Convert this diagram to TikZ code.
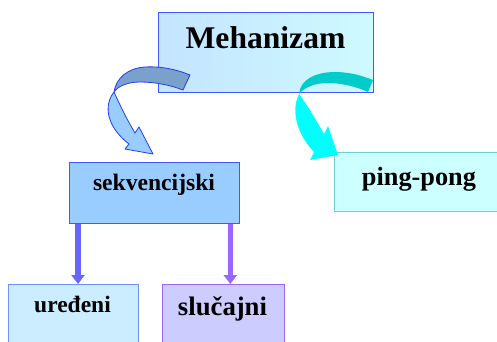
\documentclass[tikz,border=0pt]{standalone}
\usepackage{fontspec}
\setmainfont{Liberation Serif}
\usetikzlibrary{arrows.meta,positioning}

\definecolor{mehL}{RGB}{196,228,255}
\definecolor{mehR}{RGB}{206,250,255}
\definecolor{rubPlavi}{RGB}{60,90,255}
\definecolor{sekvB}{RGB}{153,204,255}
\definecolor{uredB}{RGB}{204,236,255}
\definecolor{uredR}{RGB}{110,145,255}
\definecolor{slucB}{RGB}{204,204,255}
\definecolor{slucR}{RGB}{153,102,255}
\definecolor{pingB}{RGB}{204,255,255}
\definecolor{pingR}{RGB}{110,210,210}
\definecolor{strL}{RGB}{102,102,255}
\definecolor{strD}{RGB}{153,102,255}
\definecolor{lukTamni}{RGB}{122,160,204}
\definecolor{lukRub}{RGB}{40,60,240}
\definecolor{tirkiz}{RGB}{0,204,204}
\definecolor{svijetliTirkiz}{RGB}{0,255,255}

\tikzset{
  okvir/.style={draw=#1, line width=1.3pt, inner sep=0pt, anchor=north west},
  natpis/.style={font=\bfseries\fontsize{#1}{#1}\selectfont, anchor=base, inner sep=0pt},
  strelica/.style={draw=#1, line width=5.5pt, -{Triangle[width=13pt,length=9pt]}},
}

\begin{document}
\begin{tikzpicture}[x=1pt,y=-1pt]
    \useasboundingbox (0,0) rectangle (497,341);
    \clip (0,0) rectangle (497,341);

    % kutije
    \node [okvir=rubPlavi, left color=mehL, right color=mehR,
           minimum width=215pt, minimum height=80pt] (meh) at (158,12) {};
    \node [okvir=rubPlavi, fill=sekvB, minimum width=170pt, minimum height=61pt] (sekv) at (69,162) {};
    \node [okvir=uredR, fill=uredB, minimum width=130pt, minimum height=70pt] (ured) at (8,284) {};
    \node [okvir=slucR, fill=slucB, minimum width=122pt, minimum height=70pt] (sluc) at (162,284) {};
    \node [okvir=pingR, fill=pingB, minimum width=172pt, minimum height=59pt] (ping) at (334,152) {};

    % natpisi
    \node [natpis=31.6] (mehT) at (265.5,48) {Mehanizam};
    \node [natpis=23.6] (sekvT) at (154,190.5) {sekvencijski};
    \node [natpis=23.5] (uredT) at (72.5,312.5) {uređeni};
    \node [natpis=26.7] (slucT) at (222.5,315) {slučajni};
    \node [natpis=26.3] (pingT) at (419,185) {ping-pong};

    % ravne strelice
    \coordinate (s1) at ([xshift=9pt]sekv.south west);
    \coordinate (s2) at ([xshift=-10pt]sekv.south east);
    \draw [strelica=strL] (s1) -- (s1 |- ured.north);
    \draw [strelica=strD] (s2) -- (s2 |- sluc.north);

    % zakrivljena strelica lijevo
    \fill [lukTamni, draw=lukRub, line width=0.8pt, line join=round]
      (114,92) .. controls (116,78) and (128,68) .. (145,67)
      .. controls (162,66) and (178,70) .. (190,75) -- (183,90)
      .. controls (170,85) and (155,82) .. (140,82)
      .. controls (128,82) and (118,86) .. (114,92) -- cycle;
    \fill [sekvB, draw=lukRub, line width=0.8pt, line join=round]
      (114,92) .. controls (103,106) and (107,127) .. (129,144)
      -- (125,149) -- (153,154) -- (139,127) -- (135,133)
      .. controls (126,118) and (119,103) .. (114,92) -- cycle;

    % zakrivljena strelica desno
    \fill [tirkiz]
      (299,94) .. controls (300,80) and (315,72) .. (335,72)
      .. controls (350,72) and (363,76) .. (373,80) -- (368,92)
      .. controls (355,86) and (340,83) .. (328,83)
      .. controls (315,83) and (305,87) .. (299,94) -- cycle;
    \fill [svijetliTirkiz]
      (299,94) .. controls (291,110) and (296,133) .. (314,152)
      -- (310,160) -- (338,155) -- (328,126) -- (324,134)
      .. controls (316,120) and (308,106) .. (299,94) -- cycle;
\end{tikzpicture}
\end{document}
